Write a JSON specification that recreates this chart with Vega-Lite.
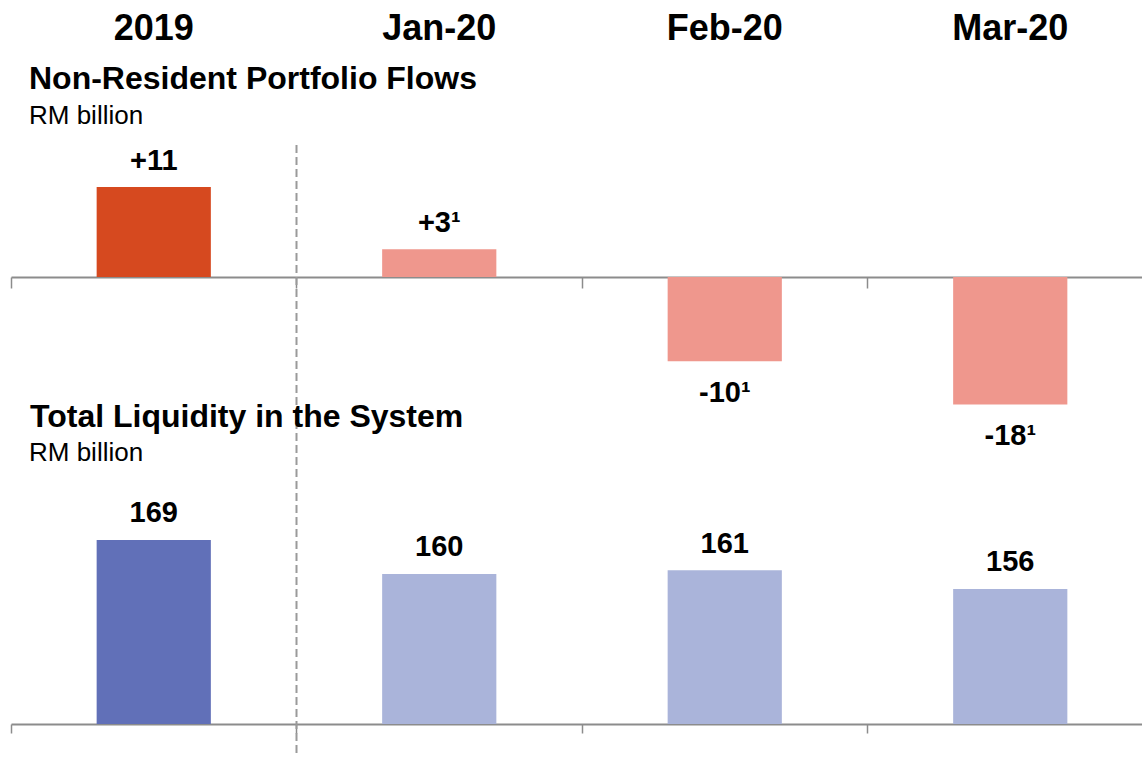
{
  "$schema": "https://vega.github.io/schema/vega-lite/v6.json",
  "width": 1131,
  "height": 674,
  "autosize": {"type": "none"},
  "padding": {"left": 11, "top": 50, "right": 0, "bottom": 33},
  "background": "white",
  "config": {"view": {"stroke": null}, "font": "Liberation Sans", "text": {"font": "Liberation Sans"}},
  "datasets": {
    "flows": [
      {"period": "2019", "kind": "Annual", "value": 11, "label": "+11"},
      {"period": "Jan-20", "kind": "Monthly", "value": 3.4, "label": "+3¹"},
      {"period": "Feb-20", "kind": "Monthly", "value": -10.3, "label": "-10¹"},
      {"period": "Mar-20", "kind": "Monthly", "value": -15.6, "label": "-18¹"}
    ],
    "liquidity": [
      {"period": "2019", "kind": "Annual", "value": 169, "label": "169"},
      {"period": "Jan-20", "kind": "Monthly", "value": 160, "label": "160"},
      {"period": "Feb-20", "kind": "Monthly", "value": 161, "label": "161"},
      {"period": "Mar-20", "kind": "Monthly", "value": 156, "label": "156"}
    ]
  },
  "layer": [
    {
      "layer": [
        {
          "data": {"name": "flows"},
          "mark": {"type": "bar", "width": {"band": 0.4}},
          "encoding": {
            "x": {"field": "period", "type": "nominal", "sort": null,
              "scale": {"domain": ["2019", "Jan-20", "Feb-20", "Mar-20"], "range": [0, 1142], "paddingInner": 0, "paddingOuter": 0},
              "axis": {"orient": "top", "offset": -227, "bandPosition": 0, "labels": false, "title": null, "grid": false,
                "domainColor": "#8c8c8c", "domainWidth": 2, "tickColor": "#8c8c8c", "tickWidth": 1.5, "tickSize": -11}},
            "y": {"field": "value", "type": "quantitative", "scale": {"domain": [-54.65, 27.75], "nice": false, "zero": false}, "axis": null},
            "color": {"field": "kind", "type": "nominal", "scale": {"domain": ["Annual", "Monthly"], "range": ["#D6491F", "#EF978D"]}, "legend": null}
          }
        },
        {
          "data": {"name": "flows"},
          "mark": {"type": "text", "baseline": "alphabetic", "fontSize": 36, "fontWeight": "bold", "color": "black"},
          "encoding": {
            "x": {"field": "period", "type": "nominal", "sort": null, "axis": null},
            "y": {"datum": 29.03, "type": "quantitative", "axis": null},
            "text": {"field": "period"}
          }
        },
        {
          "data": {"name": "flows"},
          "transform": [{"filter": "datum.value > 0"}],
          "mark": {"type": "text", "baseline": "alphabetic", "dy": -17.5, "fontSize": 29, "fontWeight": "bold", "color": "black"},
          "encoding": {
            "x": {"field": "period", "type": "nominal", "sort": null, "axis": null},
            "y": {"field": "value", "type": "quantitative", "axis": null},
            "text": {"field": "label"}
          }
        },
        {
          "data": {"name": "flows"},
          "transform": [{"filter": "datum.value < 0"}],
          "mark": {"type": "text", "baseline": "alphabetic", "dy": 40.5, "fontSize": 29, "fontWeight": "bold", "color": "black"},
          "encoding": {
            "x": {"field": "period", "type": "nominal", "sort": null, "axis": null},
            "y": {"field": "value", "type": "quantitative", "axis": null},
            "text": {"field": "label"}
          }
        },
        {
          "data": {"values": [{}]},
          "mark": {"type": "rule", "strokeDash": [8, 4], "color": "#9a9a9a", "strokeWidth": 2},
          "encoding": {
            "x": {"datum": "Jan-20", "type": "nominal", "bandPosition": 0, "axis": null},
            "y": {"datum": 16.14, "type": "quantitative", "axis": null},
            "y2": {"datum": -60}
          }
        },
        {
          "data": {"values": [{}]},
          "mark": {"type": "text", "text": "Non-Resident Portfolio Flows", "align": "left", "baseline": "alphabetic", "dx": 18, "fontSize": 32, "fontWeight": "bold", "color": "black"},
          "encoding": {
            "x": {"datum": "2019", "type": "nominal", "bandPosition": 0, "axis": null},
            "y": {"datum": 22.98, "type": "quantitative", "axis": null}
          }
        },
        {
          "data": {"values": [{}]},
          "mark": {"type": "text", "text": "RM billion", "align": "left", "baseline": "alphabetic", "dx": 18, "fontSize": 26, "color": "black"},
          "encoding": {
            "x": {"datum": "2019", "type": "nominal", "bandPosition": 0, "axis": null},
            "y": {"datum": 18.7, "type": "quantitative", "axis": null}
          }
        },
        {
          "data": {"values": [{}]},
          "mark": {"type": "text", "text": "Total Liquidity in the System", "align": "left", "baseline": "alphabetic", "dx": 19, "fontSize": 32, "fontWeight": "bold", "color": "black"},
          "encoding": {
            "x": {"datum": "2019", "type": "nominal", "bandPosition": 0, "axis": null},
            "y": {"datum": -18.3, "type": "quantitative", "axis": null}
          }
        },
        {
          "data": {"values": [{}]},
          "mark": {"type": "text", "text": "RM billion", "align": "left", "baseline": "alphabetic", "dx": 18, "fontSize": 26, "color": "black"},
          "encoding": {
            "x": {"datum": "2019", "type": "nominal", "bandPosition": 0, "axis": null},
            "y": {"datum": -22.49, "type": "quantitative", "axis": null}
          }
        }
      ],
      "resolve": {"axis": {"x": "independent"}}
    },
    {
      "layer": [
        {
          "data": {"name": "liquidity"},
          "mark": {"type": "bar", "width": {"band": 0.4}},
          "encoding": {
            "x": {"field": "period", "type": "nominal", "sort": null,
              "axis": {"orient": "bottom", "offset": 0, "bandPosition": 0, "labels": false, "title": null, "grid": false,
                "domainColor": "#8c8c8c", "domainWidth": 2, "tickColor": "#8c8c8c", "tickWidth": 1.5, "tickSize": 9}},
            "y": {"field": "value", "type": "quantitative", "scale": {"domain": [120.2, 299], "nice": false, "zero": false, "clamp": true}, "axis": null},
            "color": {"field": "kind", "type": "nominal", "scale": {"domain": ["Annual", "Monthly"], "range": ["#6170B8", "#AAB4DA"]}, "legend": null}
          }
        },
        {
          "data": {"name": "liquidity"},
          "mark": {"type": "text", "baseline": "alphabetic", "dy": -17.7, "fontSize": 29, "fontWeight": "bold", "color": "black"},
          "encoding": {
            "x": {"field": "period", "type": "nominal", "sort": null, "axis": null},
            "y": {"field": "value", "type": "quantitative", "axis": null},
            "text": {"field": "label"}
          }
        }
      ],
      "resolve": {"axis": {"x": "independent"}}
    }
  ],
  "resolve": {"scale": {"y": "independent", "color": "independent"}, "axis": {"x": "independent", "y": "independent"}}
}
